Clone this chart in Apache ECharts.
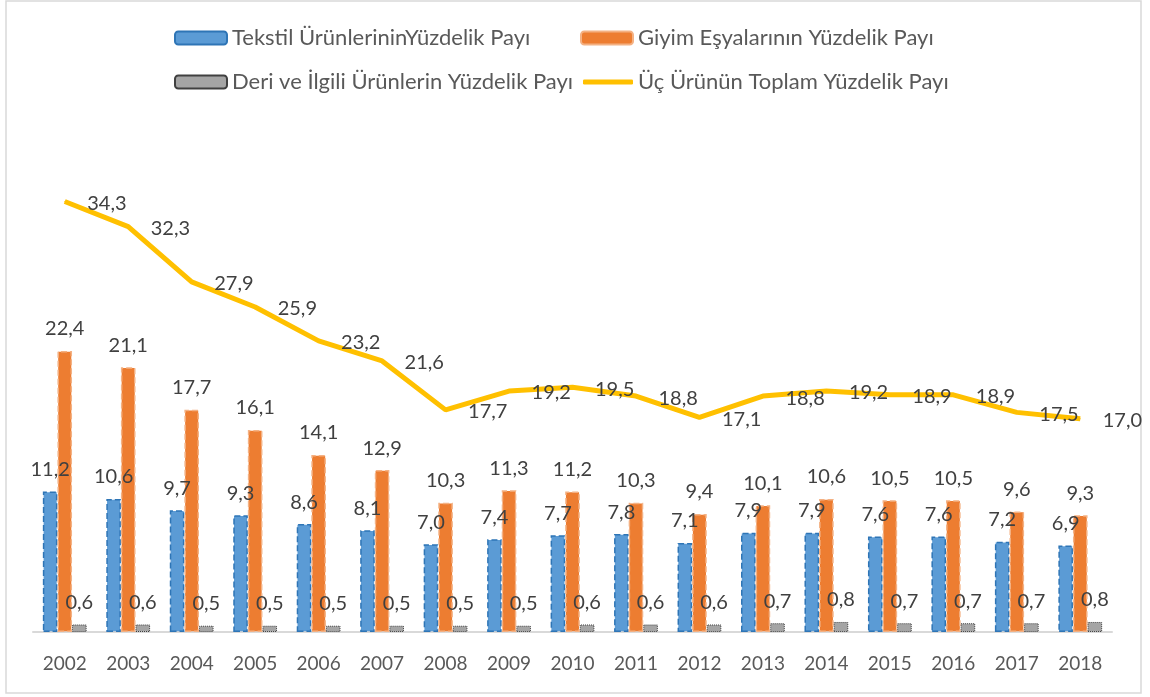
<!DOCTYPE html>
<html>
<head>
    <meta charset="UTF-8">
    <title>Yüzdelik Paylar</title>
    <script src="https://cdn.jsdelivr.net/npm/echarts@6/dist/echarts.min.js"></script>
    <style>
        html, body { margin: 0; padding: 0; background: #fff; }
        #main { width: 1150px; height: 697px; }
    </style>
</head>
<body>
    <div id="main"></div>
    <script>
        var years = ['2002', '2003', '2004', '2005', '2006', '2007', '2008', '2009', '2010',
                     '2011', '2012', '2013', '2014', '2015', '2016', '2017', '2018'];
        var tekstil = [11.2, 10.6, 9.7, 9.3, 8.6, 8.1, 7.0, 7.4, 7.7, 7.8, 7.1, 7.9, 7.9, 7.6, 7.6, 7.2, 6.9];
        var giyim = [22.4, 21.1, 17.7, 16.1, 14.1, 12.9, 10.3, 11.3, 11.2, 10.3, 9.4, 10.1, 10.6, 10.5, 10.5, 9.6, 9.3];
        var deri = [0.6, 0.6, 0.5, 0.5, 0.5, 0.5, 0.5, 0.5, 0.6, 0.6, 0.6, 0.7, 0.8, 0.7, 0.7, 0.7, 0.8];
        var toplam = [34.3, 32.3, 27.9, 25.9, 23.2, 21.6, 17.7, 19.2, 19.5, 18.8, 17.1, 18.8, 19.2, 18.9, 18.9, 17.5, 17.0];

        var names = ['Tekstil ÜrünlerininYüzdelik Payı', 'Giyim Eşyalarının Yüzdelik Payı',
                     'Deri ve İlgili Ürünlerin Yüzdelik Payı', 'Üç Ürünün Toplam Yüzdelik Payı'];

        var FONT = 'Lato';

        function fmt(p) {
            return p.value.toFixed(1).replace('.', ',');
        }

        var barLabel = {
            show: true,
            position: 'top',
            distance: 12,
            formatter: fmt,
            color: '#404040',
            fontSize: 20,
            fontFamily: FONT
        };

        var legendBase = function(name, left, top, extra) {
            var l = {
                data: [name],
                left: left,
                top: top,
                padding: 0,
                itemWidth: 52,
                itemHeight: 13,
                itemGap: 0,
                textStyle: { color: '#595959', fontSize: 22, fontFamily: FONT }
            };
            for (var k in extra) l[k] = extra[k];
            return l;
        };

        var chart = echarts.init(document.getElementById('main'));
        var option = {
            backgroundColor: '#fff',
            animation: false,
            graphic: [{
                type: 'rect',
                shape: { x: 6, y: 1, width: 1135, height: 692 },
                style: { fill: 'none', stroke: '#d9d9d9', lineWidth: 1.5 },
                silent: true
            }],
            legend: [
                legendBase(names[0], 174, 27),
                legendBase(names[1], 580, 27),
                legendBase(names[2], 174, 71),
                legendBase(names[3], 583, 71, { icon: 'roundRect', itemWidth: 50, itemHeight: 5 })
            ],
            grid: { left: 33, right: 38, top: 130, bottom: 65 },
            xAxis: {
                type: 'category',
                data: years,
                axisLine: { lineStyle: { color: '#d9d9d9', width: 2 } },
                axisTick: { show: false },
                axisLabel: { color: '#595959', fontSize: 19, fontFamily: FONT, margin: 22 }
            },
            yAxis: {
                type: 'value',
                min: 0,
                max: 40,
                show: false,
                splitLine: { show: false }
            },
            series: [
                {
                    name: names[0],
                    type: 'bar',
                    data: tekstil,
                    barGap: '0%',
                    barCategoryGap: '31%',
                    itemStyle: { color: '#5B9BD5', borderColor: '#2E75B6', borderWidth: 1.5, borderType: 'dashed' },
                    label: barLabel
                },
                {
                    name: names[1],
                    type: 'bar',
                    data: giyim,
                    barGap: '0%',
                    barCategoryGap: '31%',
                    itemStyle: { color: '#ED7D31', borderColor: '#F4B183', borderWidth: 1.5, borderType: 'dashed' },
                    label: barLabel
                },
                {
                    name: names[2],
                    type: 'bar',
                    data: deri,
                    barGap: '0%',
                    barCategoryGap: '31%',
                    itemStyle: { color: '#A5A5A5', borderColor: '#404040', borderWidth: 1, borderType: 'dotted' },
                    label: barLabel
                },
                {
                    name: names[3],
                    type: 'line',
                    data: toplam,
                    symbol: 'circle',
                    symbolSize: 1,
                    showSymbol: true,
                    lineStyle: { color: '#FFC000', width: 5 },
                    itemStyle: { color: '#FFC000' },
                    label: {
                        show: true,
                        position: 'right',
                        distance: 22,
                        offset: [0, 2],
                        formatter: fmt,
                        color: '#404040',
                        fontSize: 20,
                        fontFamily: FONT
                    },
                    z: 5
                }
            ]
        };
        chart.setOption(option);
    </script>
</body>
</html>
